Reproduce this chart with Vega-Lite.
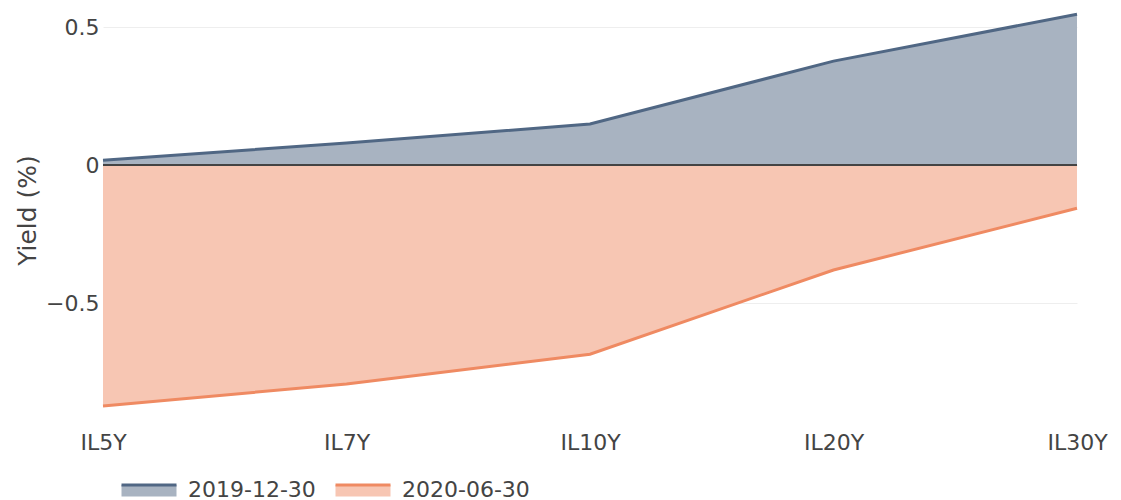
{
  "$schema": "https://vega.github.io/schema/vega-lite/v6.json",
  "width": 974,
  "height": 418,
  "autosize": {"type": "none"},
  "padding": {"left": 103, "top": 1, "right": 44, "bottom": 81},
  "background": "white",
  "config": {
    "view": {"stroke": null},
    "font": "DejaVu Sans",
    "axis": {"labelFont": "DejaVu Sans", "titleFont": "DejaVu Sans", "labelColor": "#444", "titleColor": "#444", "labelFontSize": 22, "titleFontSize": 25, "titleFontWeight": "normal"},
    "legend": {"labelFont": "DejaVu Sans", "labelFontSize": 22, "labelColor": "#444"}
  },
  "data": {
    "values": [
      {"series": "2019-12-30", "tenor": "IL5Y", "yield": 0.018},
      {"series": "2019-12-30", "tenor": "IL7Y", "yield": 0.08},
      {"series": "2019-12-30", "tenor": "IL10Y", "yield": 0.149},
      {"series": "2019-12-30", "tenor": "IL20Y", "yield": 0.377},
      {"series": "2019-12-30", "tenor": "IL30Y", "yield": 0.547},
      {"series": "2020-06-30", "tenor": "IL5Y", "yield": -0.873},
      {"series": "2020-06-30", "tenor": "IL7Y", "yield": -0.793},
      {"series": "2020-06-30", "tenor": "IL10Y", "yield": -0.685},
      {"series": "2020-06-30", "tenor": "IL20Y", "yield": -0.38},
      {"series": "2020-06-30", "tenor": "IL30Y", "yield": -0.156}
    ]
  },
  "encoding": {
    "x": {
      "field": "tenor", "type": "ordinal",
      "sort": ["IL5Y", "IL7Y", "IL10Y", "IL20Y", "IL30Y"],
      "scale": {"type": "point", "padding": 0},
      "axis": {"title": null, "labelAngle": 0, "domain": false, "ticks": false, "grid": false, "labelPadding": 13}
    },
    "y": {
      "field": "yield", "type": "quantitative",
      "scale": {"domain": [-0.92, 0.595], "nice": false, "zero": false},
      "axis": {"title": "Yield (%)", "values": [-0.5, 0, 0.5], "format": "~g", "domain": false, "ticks": false, "grid": true, "gridColor": "#eeeeee", "gridWidth": 1, "labelPadding": 4, "titlePadding": 5}
    }
  },
  "layer": [
    {
      "mark": {"type": "area", "interpolate": "linear"},
      "encoding": {
        "y2": {"datum": 0},
        "fill": {
          "field": "series", "type": "nominal",
          "scale": {"domain": ["2019-12-30", "2020-06-30"], "range": ["#a8b3c1", "#f7c6b3"]},
          "legend": {"title": null, "orient": "none", "direction": "horizontal", "legendX": 17, "legendY": 460, "symbolType": "M-1,-0.2H1V0.22H-1Z", "symbolSize": 3025, "symbolStrokeWidth": 3, "symbolDash": [55, 400], "labelOffset": 10, "columnPadding": 13, "symbolOpacity": 1}
        }
      }
    },
    {
      "mark": {"type": "line", "strokeWidth": 3, "interpolate": "linear"},
      "encoding": {
        "stroke": {
          "field": "series", "type": "nominal",
          "scale": {"domain": ["2019-12-30", "2020-06-30"], "range": ["#506784", "#ef8a62"]},
          "legend": {"title": null, "orient": "none", "direction": "horizontal", "legendX": 17, "legendY": 460, "symbolType": "M-1,-0.2H1V0.22H-1Z", "symbolSize": 3025, "symbolStrokeWidth": 3, "symbolDash": [55, 400], "labelOffset": 10, "columnPadding": 13, "symbolOpacity": 1}
        }
      }
    },
    {
      "mark": {"type": "rule", "color": "#444444", "strokeWidth": 1},
      "encoding": {"y": {"datum": 0}, "x": null}
    }
  ]
}
